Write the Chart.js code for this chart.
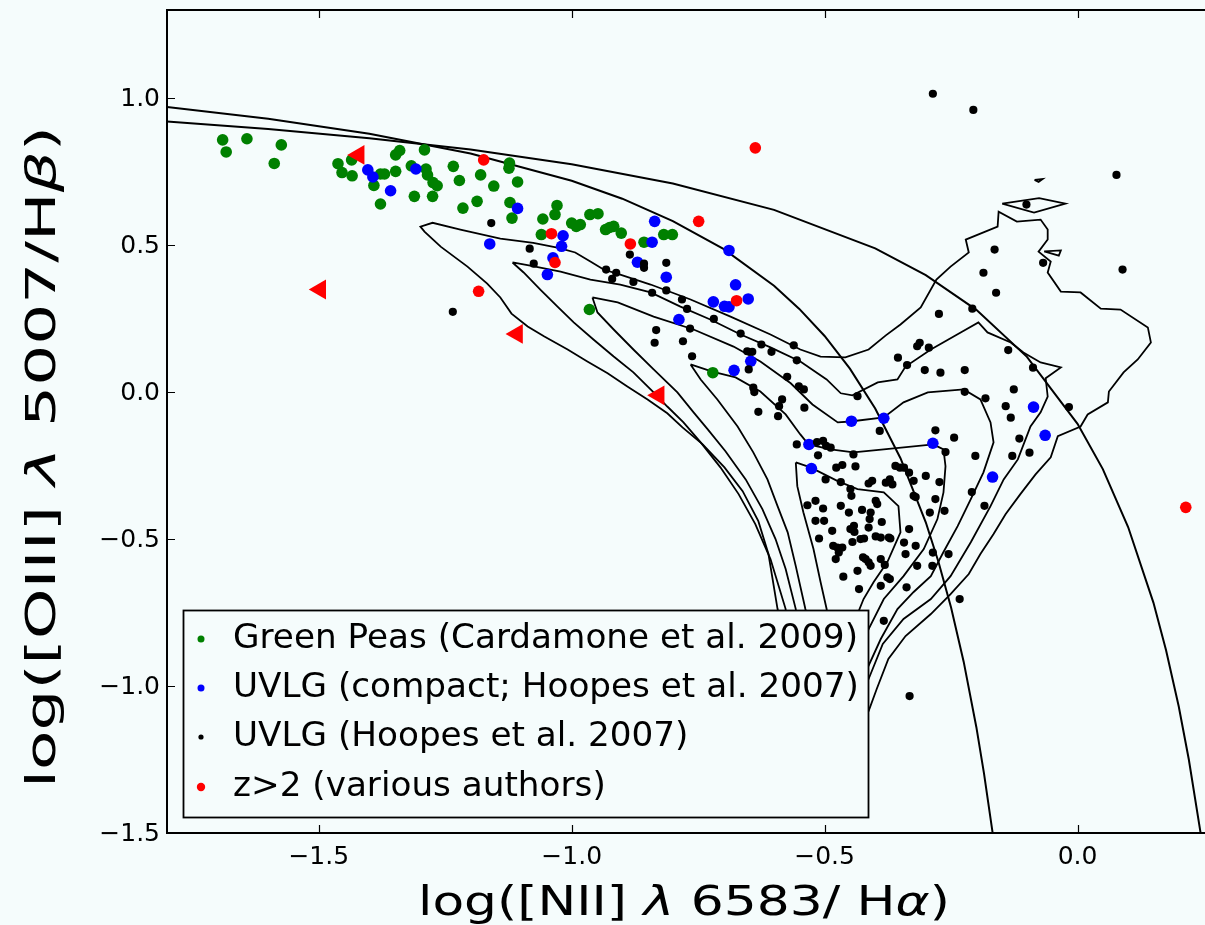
<!DOCTYPE html>
<html>
<head>
<meta charset="utf-8">
<script src="https://cdn.jsdelivr.net/npm/chart.js@4.4.0/dist/chart.umd.min.js"></script>
<style>
  html, body { margin: 0; padding: 0; background: #f5fcfc; overflow: hidden; }
  #wrap { width: 1205px; height: 925px; }
</style>
</head>
<body>
<div id="wrap"><canvas id="bpt" width="1205" height="925"></canvas></div>
<script>
// Axes
const xTicks = [-1.5, -1.0, -0.5, 0.0];
const yTicks = [-1.5, -1.0, -0.5, 0.0, 0.5, 1.0];

// Green Peas (Cardamone et al. 2009)
const greenPeas = [
  [-1.690,0.858],[-1.683,0.817],[-1.642,0.862],[-1.574,0.841],[-1.588,0.778],[-1.462,0.777],
  [-1.454,0.747],[-1.434,0.736],[-1.435,0.790],[-1.391,0.703],[-1.378,0.742],[-1.370,0.742],
  [-1.348,0.751],[-1.348,0.807],[-1.340,0.822],[-1.378,0.640],[-1.311,0.666],[-1.291,0.824],
  [-1.288,0.759],[-1.285,0.739],[-1.274,0.713],[-1.266,0.702],[-1.275,0.666],[-1.234,0.768],
  [-1.222,0.720],[-1.215,0.626],[-1.187,0.649],[-1.180,0.739],[-1.154,0.701],[-1.123,0.779],
  [-1.124,0.762],[-1.107,0.715],[-1.122,0.645],[-1.118,0.592],[-1.057,0.589],[-1.060,0.536],
  [-1.029,0.635],[-1.033,0.604],[-1.317,0.770],[-1.000,0.575],[-0.991,0.564],[-0.983,0.570],
  [-0.964,0.604],[-0.948,0.607],[-0.933,0.553],[-0.925,0.560],[-0.917,0.564],[-0.902,0.541],
  [-0.857,0.510],[-0.818,0.536],[-0.801,0.536],[-0.965,0.281],[-0.721,0.066]
];

// UVLG compact (Hoopes et al. 2007)
const uvlgCompact = [
  [-1.403,0.756],[-1.393,0.732],[-1.358,0.685],[-1.308,0.759],[-1.107,0.625],[-1.162,0.504],
  [-1.048,0.400],[-1.037,0.457],[-1.017,0.532],[-1.020,0.496],[-0.836,0.581],[-0.841,0.510],
  [-0.870,0.442],[-0.813,0.391],[-0.689,0.482],[-0.676,0.365],[-0.720,0.307],[-0.698,0.292],
  [-0.689,0.290],[-0.651,0.317],[-0.788,0.247],[-0.646,0.105],[-0.679,0.074],[-0.447,-0.099],
  [-0.383,-0.089],[-0.531,-0.178],[-0.286,-0.174],[-0.526,-0.260],[-0.168,-0.289],[-0.087,-0.051],
  [-0.064,-0.147]
];

// UVLG (Hoopes et al. 2007)
const uvlgAll = [
  [-1.159,0.575],[-1.083,0.488],[-1.075,0.437],[-1.235,0.273],[-0.885,0.468],[-0.857,0.437],
  [-0.857,0.423],[-0.813,0.440],[-0.932,0.417],[-0.912,0.406],[-0.920,0.385],[-0.878,0.375],
  [-0.841,0.338],[-0.813,0.346],[-0.782,0.315],[-0.772,0.283],[-0.719,0.249],[-0.766,0.216],
  [-0.833,0.211],[-0.836,0.168],[-0.780,0.173],[-0.666,0.199],[-0.625,0.162],[-0.605,0.137],
  [-0.653,0.139],[-0.643,0.137],[-0.561,0.159],[-0.555,0.108],[-0.762,0.122],[-0.650,0.077],
  [-0.574,0.052],[-0.641,0.015],[-0.639,0.000],[-0.584,-0.025],[-0.590,-0.048],[-0.631,-0.067],
  [-0.592,-0.082],[-0.551,0.020],[-0.541,0.009],[-0.540,-0.053],[-0.435,-0.014],[-0.274,0.266],
  [-0.208,0.284],[-0.355,0.117],[-0.337,0.092],[-0.317,0.156],[-0.312,0.168],[-0.294,0.151],
  [-0.137,0.143],[-0.302,0.075],[-0.271,0.066],[-0.223,0.075],[-0.223,0.001],[-0.182,-0.021],
  [-0.126,0.009],[-0.142,-0.048],[-0.132,-0.087],[-0.088,0.083],[-0.391,-0.132],[-0.281,-0.130],
  [-0.244,-0.155],[-0.555,-0.178],[-0.515,-0.170],[-0.503,-0.166],[-0.497,-0.183],[-0.488,-0.189],
  [-0.513,-0.215],[-0.443,-0.212],[-0.261,-0.204],[-0.202,-0.217],[-0.115,-0.158],[-0.129,-0.217],
  [-0.095,-0.206],[-0.477,-0.257],[-0.465,-0.248],[-0.439,-0.253],[-0.498,-0.297],[-0.468,-0.306],
  [-0.449,-0.330],[-0.447,-0.353],[-0.406,-0.302],[-0.413,-0.311],[-0.379,-0.308],[-0.371,-0.297],
  [-0.366,-0.314],[-0.360,-0.251],[-0.351,-0.257],[-0.343,-0.257],[-0.333,-0.274],[-0.324,-0.302],
  [-0.300,-0.285],[-0.273,-0.306],[-0.209,-0.340],[-0.324,-0.353],[-0.320,-0.357],[-0.281,-0.364],
  [-0.292,-0.410],[-0.263,-0.404],[-0.184,-0.387],[-0.534,-0.385],[-0.518,-0.370],[-0.503,-0.396],
  [-0.468,-0.387],[-0.452,-0.410],[-0.426,-0.401],[-0.409,-0.410],[-0.411,-0.432],[-0.399,-0.370],
  [-0.396,-0.381],[-0.518,-0.438],[-0.501,-0.438],[-0.442,-0.455],[-0.441,-0.476],[-0.449,-0.466],
  [-0.429,-0.500],[-0.422,-0.498],[-0.413,-0.461],[-0.387,-0.442],[-0.511,-0.498],[-0.485,-0.472],
  [-0.399,-0.491],[-0.389,-0.495],[-0.373,-0.495],[-0.370,-0.498],[-0.483,-0.523],[-0.475,-0.529],
  [-0.472,-0.546],[-0.465,-0.529],[-0.478,-0.568],[-0.445,-0.510],[-0.424,-0.562],[-0.419,-0.568],
  [-0.413,-0.579],[-0.409,-0.591],[-0.389,-0.568],[-0.381,-0.588],[-0.435,-0.608],[-0.463,-0.628],
  [-0.376,-0.630],[-0.371,-0.636],[-0.389,-0.659],[-0.432,-0.670],[-0.333,-0.466],[-0.343,-0.512],
  [-0.340,-0.551],[-0.320,-0.523],[-0.317,-0.591],[-0.338,-0.664],[-0.286,-0.546],[-0.287,-0.591],
  [-0.255,-0.551],[-0.233,-0.704],[-0.383,-0.778],[-0.332,-1.034],[-0.286,1.015],[-0.206,0.960],
  [0.077,0.739],[-0.101,0.638],[-0.164,0.485],[-0.068,0.440],[0.089,0.417],[-0.186,0.406],
  [-0.161,0.338],[-0.017,-0.051]
];

// z>2 (various authors): detections and upper limits
const highZ = [
  [-1.174,0.790],[-1.040,0.539],[-1.033,0.441],[-1.184,0.343],[-0.884,0.504],[-0.749,0.581],
  [-0.674,0.311],[-0.637,0.831],[0.214,-0.392]
];
const highZLimits = [[-1.421,0.807],[-1.497,0.349],[-1.108,0.198],[-0.828,-0.011]];

// Demarcation lines (Kewley 2001, Kauffmann 2003)
const kewley = [
  [-1.8,0.921],[-1.6,0.895],[-1.4,0.864],[-1.2,0.825],[-1.0,0.775],[-0.8,0.710],[-0.6,0.620],
  [-0.4,0.489],[-0.3,0.398],[-0.2,0.280],[-0.1,0.120],[0.0,-0.108],[0.05,-0.262],[0.1,-0.459],
  [0.15,-0.716],[0.175,-0.878],[0.2,-1.069],[0.22,-1.250],[0.243,-1.497]
];
const kauffmann = [
  [-1.8,0.970],[-1.6,0.930],[-1.4,0.879],[-1.2,0.812],[-1.0,0.719],[-0.9,0.658],[-0.8,0.582],
  [-0.7,0.487],[-0.6,0.362],[-0.55,0.283],[-0.5,0.191],[-0.45,0.080],[-0.4,-0.056],[-0.35,-0.225],
  [-0.3,-0.443],[-0.275,-0.577],[-0.25,-0.733],[-0.225,-0.918],[-0.2,-1.140],[-0.185,-1.296],
  [-0.168,-1.498]
];

// SDSS density contours
const contourA = [
  [-0.548,-1.112],[-0.567,-0.908],[-0.593,-0.738],[-0.611,-0.551],[-0.631,-0.439],[-0.662,-0.337],
  [-0.698,-0.256],[-0.741,-0.178],[-0.781,-0.120],[-0.811,-0.072],[-0.850,-0.025],[-0.890,0.019],
  [-0.929,0.064],[-0.969,0.104],[-1.008,0.145],[-1.054,0.189],[-1.087,0.223],[-1.119,0.267],
  [-1.141,0.322],[-1.167,0.369],[-1.206,0.427],[-1.259,0.495],[-1.291,0.546],[-1.299,0.563],
  [-1.275,0.576],[-1.220,0.553],[-1.141,0.522],[-1.076,0.508],[-1.026,0.491],[-0.993,0.475],
  [-0.963,0.444],[-0.937,0.417],[-0.904,0.400],[-0.844,0.366],[-0.765,0.315],[-0.686,0.257],
  [-0.607,0.196],[-0.548,0.145],[-0.508,0.121],[-0.459,0.118],[-0.413,0.145],[-0.379,0.193],
  [-0.350,0.230],[-0.310,0.288],[-0.279,0.383],[-0.251,0.427],[-0.215,0.475],[-0.221,0.519],
  [-0.158,0.563],[-0.156,0.614],[-0.120,0.580],[-0.073,0.587],[-0.059,0.553],[-0.059,0.519],
  [-0.077,0.478],[-0.053,0.444],[-0.059,0.407],[-0.033,0.342],[0.006,0.339],[0.046,0.284],
  [0.085,0.281],[0.139,0.220],[0.145,0.169],[0.119,0.111],[0.091,0.067],[0.062,0.002],
  [0.060,-0.035],[0.020,-0.076],[0.006,-0.117],[-0.039,-0.150],[-0.053,-0.222],[-0.083,-0.280],
  [-0.113,-0.347],[-0.142,-0.415],[-0.166,-0.483],[-0.192,-0.551],[-0.215,-0.619],[-0.251,-0.687],
  [-0.290,-0.755],[-0.340,-0.830],[-0.374,-0.908],[-0.397,-1.010],[-0.413,-1.085],[-0.468,-1.129]
];
const contourB = [
  [-1.117,0.441],[-1.082,0.430],[-1.022,0.410],[-0.963,0.383],[-0.904,0.366],[-0.844,0.339],
  [-0.785,0.291],[-0.726,0.247],[-0.666,0.196],[-0.607,0.152],[-0.548,0.104],[-0.496,0.043],
  [-0.468,-0.004],[-0.445,-0.011],[-0.395,0.033],[-0.356,0.043],[-0.340,0.087],[-0.290,0.145],
  [-0.231,0.203],[-0.196,0.237],[-0.178,0.203],[-0.132,0.169],[-0.107,0.135],[-0.073,0.101],
  [-0.033,0.084],[-0.063,0.047],[-0.059,-0.015],[-0.073,-0.069],[-0.093,-0.117],[-0.118,-0.229],
  [-0.146,-0.297],[-0.172,-0.388],[-0.211,-0.511],[-0.251,-0.626],[-0.290,-0.704],[-0.344,-0.772],
  [-0.385,-0.857],[-0.413,-0.976],[-0.439,-1.061],[-0.528,-1.061],[-0.577,-0.874],[-0.577,-0.738],
  [-0.607,-0.568],[-0.637,-0.449],[-0.670,-0.347],[-0.706,-0.256],[-0.745,-0.171],[-0.779,-0.103],
  [-0.811,-0.049],[-0.838,-0.001],[-0.878,0.067],[-0.917,0.121],[-0.957,0.179],[-0.996,0.237],
  [-1.028,0.291],[-1.062,0.349],[-1.095,0.407]
];
const contourC = [
  [-0.959,0.322],[-0.909,0.305],[-0.838,0.257],[-0.759,0.213],[-0.680,0.155],[-0.627,0.104],
  [-0.567,0.030],[-0.524,-0.042],[-0.474,-0.103],[-0.449,-0.100],[-0.383,-0.086],[-0.344,-0.035],
  [-0.296,-0.001],[-0.225,0.009],[-0.192,-0.025],[-0.172,-0.103],[-0.166,-0.171],[-0.186,-0.273],
  [-0.211,-0.364],[-0.237,-0.456],[-0.265,-0.544],[-0.290,-0.626],[-0.324,-0.680],[-0.356,-0.738],
  [-0.389,-0.840],[-0.425,-0.976],[-0.459,-1.027],[-0.548,-0.942],[-0.557,-0.738],[-0.577,-0.602],
  [-0.597,-0.500],[-0.623,-0.398],[-0.656,-0.297],[-0.696,-0.201],[-0.731,-0.127],[-0.759,-0.069],
  [-0.791,-0.001],[-0.838,0.077],[-0.878,0.145],[-0.917,0.213],[-0.949,0.271]
];
const contourD = [
  [-0.765,0.094],[-0.722,0.070],[-0.676,0.050],[-0.627,0.002],[-0.577,-0.076],[-0.548,-0.144],
  [-0.532,-0.178],[-0.488,-0.195],[-0.443,-0.205],[-0.383,-0.195],[-0.285,-0.178],[-0.265,-0.195],
  [-0.261,-0.252],[-0.265,-0.341],[-0.277,-0.432],[-0.304,-0.534],[-0.344,-0.626],[-0.383,-0.704],
  [-0.413,-0.806],[-0.439,-0.908],[-0.508,-0.925],[-0.538,-0.738],[-0.557,-0.592],[-0.573,-0.477],
  [-0.593,-0.388],[-0.613,-0.297],[-0.641,-0.205],[-0.672,-0.117],[-0.712,-0.025],[-0.745,0.043]
];
const contourE = [
  [-0.557,-0.239],[-0.528,-0.256],[-0.474,-0.303],[-0.435,-0.330],[-0.383,-0.341],[-0.354,-0.388],
  [-0.350,-0.477],[-0.376,-0.578],[-0.403,-0.646],[-0.423,-0.704],[-0.439,-0.772],[-0.459,-0.840],
  [-0.488,-0.840],[-0.496,-0.738],[-0.508,-0.646],[-0.522,-0.534],[-0.542,-0.409],[-0.554,-0.320]
];
const contourEye = [[-0.149,0.641],[-0.076,0.660],[-0.024,0.641],[-0.086,0.611]];
const contourWedge = [[-0.066,0.479],[-0.033,0.482],[-0.037,0.464]];
const contourSpeck = [[-0.085,0.722],[-0.069,0.725],[-0.077,0.715]];

const legendItems = [
  { label: 'Green Peas (Cardamone et al. 2009)', color: '#008000', r: 3.5 },
  { label: 'UVLG (compact; Hoopes et al. 2007)', color: '#0000ff', r: 3.5 },
  { label: 'UVLG (Hoopes et al. 2007)', color: '#000000', r: 2.6 },
  { label: 'z>2 (various authors)', color: '#ff0000', r: 4.2 }
];

const BG = '#f5fcfc';
const FONT = '"DejaVu Sans", "Liberation Sans", sans-serif';

function toXY(pairs) {
  return pairs.map(p => ({ x: p[0], y: p[1] }));
}

function scatterSet(pairs, color, radius, style, rotation) {
  return {
    data: toXY(pairs),
    showLine: false,
    pointStyle: style || 'circle',
    rotation: rotation || 0,
    pointRadius: radius,
    pointBackgroundColor: color,
    pointBorderColor: color,
    pointBorderWidth: 0
  };
}

function lineSet(pairs, closed, width) {
  const pts = toXY(pairs);
  if (closed) pts.push({ x: pairs[0][0], y: pairs[0][1] });
  return {
    data: pts,
    showLine: true,
    pointRadius: 0,
    borderColor: '#000000',
    borderWidth: width || 1.8,
    tension: 0,
    fill: false
  };
}

// draw text made of plain and italic parts, centred on (0,0), stretched to a given width
function drawMixed(ctx, parts, size, targetW) {
  const widths = parts.map(p => {
    ctx.font = (p[1] ? 'italic ' : '') + size + 'px ' + FONT;
    return ctx.measureText(p[0]).width;
  });
  const total = widths.reduce((a, b) => a + b, 0);
  ctx.save();
  ctx.scale(targetW / total, 1);
  let x = -total / 2;
  parts.forEach((p, i) => {
    ctx.font = (p[1] ? 'italic ' : '') + size + 'px ' + FONT;
    ctx.fillText(p[0], x, 0);
    x += widths[i];
  });
  ctx.restore();
}

function fmt(v) {
  return (v < 0 ? '\u2212' : '') + Math.abs(v).toFixed(1);
}

const backdrop = {
  id: 'backdrop',
  beforeDraw(chart) {
    const ctx = chart.ctx;
    ctx.save();
    ctx.fillStyle = BG;
    ctx.fillRect(0, 0, chart.width, chart.height);
    ctx.restore();
  }
};

const axesAndLegend = {
  id: 'axesAndLegend',
  afterDraw(chart) {
    const ctx = chart.ctx;
    const a = chart.chartArea;
    const xs = chart.scales.x, ys = chart.scales.y;
    ctx.save();
    ctx.strokeStyle = '#000';
    ctx.fillStyle = '#000';

    // frame (right edge is outside the picture)
    ctx.lineWidth = 2;
    ctx.beginPath();
    ctx.moveTo(a.right + 2, a.top);
    ctx.lineTo(a.left, a.top);
    ctx.lineTo(a.left, a.bottom);
    ctx.lineTo(a.right + 2, a.bottom);
    ctx.stroke();

    // inward ticks
    ctx.lineWidth = 1.2;
    ctx.beginPath();
    xTicks.forEach(v => {
      const px = Math.round(xs.getPixelForValue(v)) + 0.5;
      ctx.moveTo(px, a.bottom); ctx.lineTo(px, a.bottom - 8);
      ctx.moveTo(px, a.top); ctx.lineTo(px, a.top + 8);
    });
    yTicks.forEach(v => {
      const py = Math.round(ys.getPixelForValue(v)) + 0.5;
      ctx.moveTo(a.left, py); ctx.lineTo(a.left + 8, py);
    });
    ctx.stroke();

    // tick labels
    ctx.font = '25px ' + FONT;
    ctx.textBaseline = 'middle';
    ctx.textAlign = 'center';
    xTicks.forEach(v => ctx.fillText(fmt(v), xs.getPixelForValue(v), a.bottom + 24));
    ctx.textAlign = 'right';
    yTicks.forEach(v => ctx.fillText(fmt(v), a.left - 7, ys.getPixelForValue(v) + 1));

    // axis titles
    ctx.textAlign = 'left';
    ctx.save();
    ctx.translate(684, 905);
    drawMixed(ctx, [['log([NII] ', false], ['\u03bb', true], [' 6583/ H', false], ['\u03b1', true], [')', false]], 40, 532);
    ctx.restore();
    ctx.save();
    ctx.translate(45, 457);
    ctx.rotate(-Math.PI / 2);
    drawMixed(ctx, [['log([OIII] ', false], ['\u03bb', true], [' 5007/H', false], ['\u03b2', true], [')', false]], 40, 662);
    ctx.restore();

    // legend box
    const lx = 183.5, ly = 610.5, lw = 685, lh = 207;
    ctx.fillStyle = BG;
    ctx.fillRect(lx, ly, lw, lh);
    ctx.lineWidth = 1.8;
    ctx.strokeRect(lx, ly, lw, lh);
    ctx.font = '33px ' + FONT;
    const stretch = 625 / ctx.measureText(legendItems[0].label).width;
    const rows = [639, 688, 737, 787];
    legendItems.forEach((it, i) => {
      ctx.fillStyle = it.color;
      ctx.beginPath();
      ctx.arc(201, rows[i], it.r, 0, Math.PI * 2);
      ctx.fill();
      ctx.fillStyle = '#000';
      ctx.save();
      ctx.translate(233, rows[i]);
      ctx.scale(stretch, 1);
      ctx.fillText(it.label, 0, 0);
      ctx.restore();
    });
    ctx.restore();
  }
};

const datasets = [
  scatterSet(highZLimits, '#ff0000', 11.5, 'triangle', -90),
  scatterSet(highZ, '#ff0000', 5.8),
  scatterSet(uvlgAll, '#000000', 4.1),
  scatterSet(uvlgCompact, '#0000ff', 5.8),
  scatterSet(greenPeas, '#008000', 5.8),
  lineSet(kewley, false, 2),
  lineSet(kauffmann, false, 2),
  lineSet(contourA, true),
  lineSet(contourB, true),
  lineSet(contourC, true),
  lineSet(contourD, true),
  lineSet(contourE, true),
  lineSet(contourEye, true),
  lineSet(contourWedge, true),
  lineSet(contourSpeck, true)
];

new Chart(document.getElementById('bpt'), {
  type: 'scatter',
  data: { datasets: datasets },
  options: {
    responsive: false,
    animation: false,
    devicePixelRatio: 1,
    layout: { autoPadding: false, padding: { top: 10, right: 1, left: 0, bottom: 0 } },
    plugins: { legend: { display: false }, tooltip: { enabled: false } },
    scales: {
      x: {
        type: 'linear', min: -1.8, max: 0.25,
        grid: { display: false }, border: { display: false },
        ticks: { display: false },
        afterFit: s => { s.height = 92; }
      },
      y: {
        type: 'linear', min: -1.5, max: 1.3,
        grid: { display: false }, border: { display: false },
        ticks: { display: false },
        afterFit: s => { s.width = 167; }
      }
    }
  },
  plugins: [backdrop, axesAndLegend]
});
</script>
</body>
</html>
